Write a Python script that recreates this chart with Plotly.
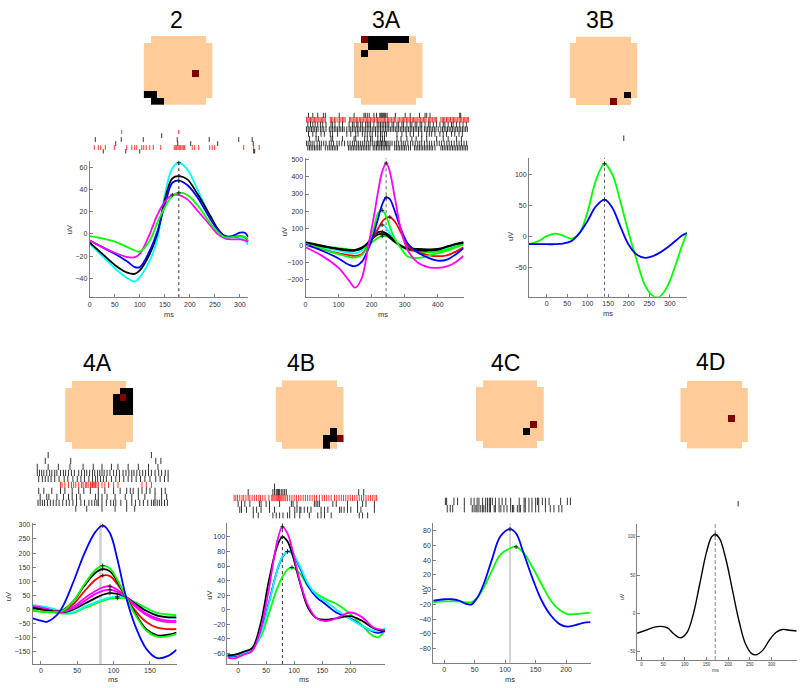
import plotly.graph_objects as go

W, H = 800, 688

# ---------------- colours ----------------
PEACH = "#FFCC99"
DARKRED = "#800000"
COL = dict(b="#0000FF", g="#00FF00", r="#FF0000", c="#00FFFF", m="#FF00FF", k="#000000")

# ---------------- panel titles ----------------
titles = ["2", "3A", "3B", "4A", "4B", "4C", "4D"]

# ---------------- head maps (row, col) on a 10x10 grid ----------------
head_black = {
    "2": [(8, 0), (8, 1), (9, 1), (9, 2)],
    "3A": [(0, 2), (0, 3), (0, 4), (0, 5), (0, 6), (0, 7), (1, 2), (1, 3), (1, 4), (2, 1)],
    "3B": [(8, 8)],
    "4A": [(1, 8), (1, 9), (2, 7), (2, 9), (3, 7), (3, 8), (3, 9), (4, 7), (4, 8), (4, 9)],
    "4B": [(8, 7), (9, 7), (7, 8), (8, 8)],
    "4C": [(7, 7)],
    "4D": [],
}
head_red = {
    "2": [(5, 7)], "3A": [(0, 1)], "3B": [(9, 6)], "4A": [(2, 8)],
    "4B": [(8, 9)], "4C": [(6, 8)], "4D": [(5, 7)],
}

# ---------------- waveforms (ms, uV) ----------------
p2_t = [0, 25, 50, 75, 90, 100, 120, 135, 150, 165, 178, 195, 215, 240, 255, 270, 285, 300, 310, 317]
p2_cyan = [-9, -20, -31, -40, -43, -39, -24, -5, 35, 59, 64, 58, 40, 16, 5, -4, -3, -4, -6, -10]
p2_black = [-8, -18, -28, -35, -36, -33, -18, 0, 31, 50, 52, 49, 36, 17, 5, -2, -3, -2, -3, -7]
p2_blue = [-6, -12, -18, -25, -30, -30, -15, 2, 26, 46, 48, 44, 33, 14, 4, -2, -2, 1, 1, -3]
p2_magenta = [-6, -12, -17, -21, -21, -18, 0, 17, 29, 35, 35, 31, 21, 8, 0, -4, -5, -5, -6, -7]
p2_green = [-2, -4, -7, -12, -15, -16, -6, 10, 24, 34, 37, 35, 26, 10, 2, -3, -3, -2, -3, -6]

p3a_t = [0, 50, 100, 130, 150, 170, 190, 205, 220, 232, 244, 255, 270, 290, 310, 340, 370, 400, 430, 455, 478]
p3a_magenta = [-10, -60, -130, -200, -245, -190, 0, 150, 320, 430, 480, 430, 280, 80, -30, -100, -125, -130, -120, -95, -60]
p3a_blue = [5, -30, -75, -110, -120, -95, -20, 60, 160, 240, 280, 270, 200, 90, 10, -40, -70, -88, -80, -50, -15]
p3a_red = [5, -20, -45, -55, -60, -50, 0, 50, 100, 140, 160, 165, 140, 70, -5, -40, -55, -62, -55, -35, -10]
p3a_green1 = [10, -20, -50, -65, -70, -55, 0, 90, 190, 205, 170, 110, 40, -20, -65, -72, -60, -45, -30, -10, 5]
p3a_green2 = [10, -5, -15, -22, -25, -20, 0, 25, 45, 55, 55, 45, 25, 0, -25, -35, -40, -35, -20, -5, 10]
p3a_cyan = [15, -10, -30, -42, -45, -30, 5, 50, 100, 120, 105, 70, 30, -5, -25, -30, -30, -25, -10, 5, 15]
p3a_black1 = [20, 0, -20, -30, -30, -15, 20, 55, 78, 80, 72, 55, 25, -5, -20, -28, -30, -25, -5, 10, 20]
p3a_black2 = [15, -5, -20, -25, -25, -12, 15, 45, 65, 68, 62, 45, 20, -3, -15, -20, -22, -20, -5, 8, 15]

p3b_t = [-43, -20, 0, 20, 40, 60, 80, 100, 120, 141, 160, 180, 200, 220, 240, 260, 275, 295, 315, 330, 342]
p3b_green = [-13, -8, 0, 4, 1, -4, 5, 40, 90, 117, 100, 55, 5, -40, -80, -97, -98, -80, -45, -15, 6]
p3b_blue = [-13, -13, -13, -13, -12, -8, 5, 25, 48, 59, 46, 15, -14, -30, -35, -32, -27, -18, -7, 1, 5]

p4a_t = [-11.4, 0, 8, 20, 30, 45, 60, 75, 85, 95, 105, 117, 130, 145, 160, 175, 186.6]
p4a_blue = [-32, -40, -44, -25, 10, 100, 200, 275, 297, 270, 180, 45, -60, -140, -173, -165, -143]
p4a_green_a = [-5, -8, -9, -9, -5, 30, 90, 140, 155, 145, 105, 44, -20, -75, -97, -95, -88]
p4a_black_a = [5, 0, -3, -8, -3, 30, 85, 130, 143, 135, 100, 44, -15, -70, -92, -90, -82]
p4a_red = [5, 0, -3, -8, -5, 20, 65, 105, 120, 118, 90, 44, -5, -45, -65, -70, -70]
p4a_magenta_a = [10, 5, 0, -7, -8, 10, 40, 65, 78, 82, 70, 44, 10, -20, -38, -45, -45]
p4a_magenta_b = [12, 7, 2, -6, -9, 5, 30, 55, 66, 70, 62, 44, 15, -15, -32, -40, -40]
p4a_black_b = [8, 3, 0, -6, -10, 0, 20, 40, 52, 58, 55, 44, 20, -5, -22, -28, -28]
p4a_cyan = [15, 12, 8, 0, -8, -10, 10, 25, 35, 43, 45, 42, 20, -5, -20, -28, -30]
p4a_green_b = [-5, -8, -10, -12, -15, -12, 5, 20, 30, 38, 40, 40, 25, 5, -12, -18, -20]

p4b_t = [-19, -5, 10, 25, 40, 55, 70, 79, 88, 96, 110, 125, 140, 155, 175, 200, 220, 240, 250, 262]
p4b_magenta = [-66, -67, -62, -57, -28, 29, 95, 114, 105, 85, 40, 5, -12, -16, -12, -4, -10, -24, -27, -28]
p4b_black = [-63, -62, -58, -53, -20, 40, 88, 100, 94, 78, 38, 2, -12, -14, -12, -9, -15, -25, -28, -30]
p4b_blue = [-64, -64, -60, -55, -33, 10, 55, 72, 80, 78, 58, 32, 17, 8, -4, -12, -22, -30, -32, -29]
p4b_cyan = [-63, -63, -60, -55, -35, 8, 55, 73, 80, 79, 60, 35, 20, 12, 0, -13, -22, -29, -30, -26]
p4b_green = [-63, -62, -58, -54, -38, -5, 30, 45, 55, 58, 50, 32, 22, 15, 8, -6, -21, -36, -38, -28]

p4c_t = [-18, 0, 12, 25, 35, 45, 55, 65, 78, 92, 108, 118, 130, 145, 160, 175, 190, 202, 215, 228, 240]
p4c_blue = [-15, -13, -13, -15, -19, -20, -10, 8, 40, 72, 82, 76, 50, 15, -15, -35, -47, -50, -48, -45, -44]
p4c_green = [-17, -16, -16, -16, -17, -17, -10, 3, 25, 47, 56, 58, 50, 30, 7, -15, -28, -33, -33, -32, -31]

p4d_t = [-10, 10, 30, 45, 60, 75, 90, 105, 120, 135, 150, 162, 170, 180, 195, 210, 225, 240, 255, 265, 280, 295, 310, 325, 340, 358]
p4d_black = [-26, -22, -18, -17, -19, -27, -32, -25, 0, 40, 80, 100, 103, 98, 70, 30, -10, -40, -53, -54, -48, -35, -25, -21, -22, -23]

# time of the marked peak (vertical line) per panel, ms
peak_ms = {"2": 178, "3A": 244, "3B": 141, "4A": 82, "4B": 79, "4C": 108, "4D": 170}

# ---------------- spike rasters (ms), top row first; colour per row ----------------
r2_rows = [
    [64, 178],
    [144],
    [11, 63, 107, 175, 239, 298, 325],
    [52, 176, 202, 256, 327],
    [9, 17, 22, 31, 49, 74, 84, 90, 94, 104, 108, 113, 120, 127, 142, 169, 172, 174, 177, 180,
     182, 185, 188, 190, 205, 210, 218, 240, 245, 250, 308, 328, 339],
    [27, 72, 100, 328, 330],
]
r2_cols = ["r", "k", "k", "k", "r", "k"]

r3a_rows = [
    [9, 22, 37, 54, 60, 102, 147, 177, 181, 187, 193, 207, 215, 225, 228, 231, 234, 237, 240, 243,
     247, 272, 302, 317, 345, 362, 367, 377, 467, 470],
    [3, 7, 11, 15, 19, 23, 27, 31, 35, 40, 44, 48, 52, 56, 60, 75, 79, 83, 88, 92, 98, 103, 107, 112,
     116, 120, 133, 137, 141, 146, 150, 154, 158, 163, 167, 171, 175, 180, 184, 188, 192, 197, 201,
     205, 209, 214, 218, 222, 226, 231, 235, 239, 243, 248, 252, 256, 260, 265, 269, 273, 280, 284,
     289, 293, 297, 301, 306, 310, 314, 318, 323, 327, 331, 335, 340, 344, 348, 353, 357, 361, 365,
     372, 376, 380, 384, 389, 393, 397, 410, 414, 418, 422, 427, 431, 435, 439, 444, 448, 452, 456,
     461, 465, 469, 473, 478, 482, 486, 490, 494],
    [7, 15, 22, 29, 37, 45, 52, 62, 77, 82, 89, 102, 112, 132, 142, 147, 155, 159, 167, 172, 182,
     187, 192, 197, 207, 217, 222, 227, 232, 237, 242, 247, 252, 262, 267, 277, 282, 292, 297, 307,
     317, 322, 332, 337, 347, 352, 362, 372, 377, 387, 397, 407, 417, 422, 432, 442, 447, 457, 467,
     477, 487],
    [3, 8, 13, 18, 23, 28, 33, 38, 45, 50, 55, 62, 72, 77, 82, 87, 92, 97, 102, 107, 112, 117, 125,
     132, 137, 142, 147, 152, 157, 162, 167, 172, 177, 182, 187, 192, 197, 202, 207, 212, 217, 222,
     227, 232, 237, 242, 247, 252, 257, 262, 267, 272, 277, 282, 287, 292, 297, 302, 307, 312, 317,
     322, 327, 332, 337, 342, 347, 352, 360, 365, 370, 375, 380, 385, 390, 395, 402, 410, 415, 420,
     425, 430, 435, 440, 445, 450, 455, 460, 465, 470, 475, 480, 485, 490],
    [9, 22, 32, 47, 57, 75, 82, 97, 125, 137, 152, 159, 172, 180, 187, 195, 202, 212, 219, 227, 232,
     239, 245, 277, 292, 305, 317, 327, 342, 352, 367, 375, 382, 392, 407, 417, 427, 442, 452, 465, 475],
    [12, 32, 39, 77, 82, 112, 147, 152, 179, 187, 197, 202, 219, 227, 233, 239, 277, 289, 307, 322,
     335, 352, 367, 397, 417, 432, 457, 472],
    [3, 8, 14, 20, 26, 35, 42, 48, 55, 62, 72, 78, 85, 95, 102, 110, 118, 128, 135, 142, 148, 155,
     160, 166, 172, 178, 184, 190, 196, 202, 208, 214, 218, 222, 226, 230, 234, 238, 242, 246, 250,
     256, 262, 270, 276, 282, 290, 296, 302, 310, 318, 325, 332, 340, 346, 352, 360, 368, 375, 382,
     390, 398, 405, 412, 420, 428, 435, 442, 450, 458, 465, 472, 480, 488],
    [7, 12, 17, 22, 27, 32, 37, 42, 47, 60, 67, 72, 77, 82, 87, 92, 97, 130, 135, 140, 145, 150, 155,
     160, 165, 170, 175, 180, 185, 190, 195, 205, 210, 215, 220, 225, 230, 235, 240, 245, 250, 255,
     270, 275, 280, 285, 290, 295, 300, 305, 312, 318, 330, 335, 340, 345, 350, 355, 360, 365, 370,
     375, 380, 385, 392, 410, 415, 420, 425, 430, 435, 440, 445, 450, 455, 460, 465, 470, 475, 480,
     485, 490],
]
r3a_cols = ["k", "r", "k", "k", "k", "k", "k", "k"]

r3b_rows = [[188]]
r3b_cols = ["k"]

r4a_rows = [
    [10, 152],
    [6, 41, 158, 165],
    [-5, 10, 24, 40, 58, 72, 84, 97, 106, 120, 134, 148, 161],
    [-5, -2, 1, 4, 8, 12, 15, 19, 22, 27, 31, 34, 38, 42, 46, 52, 56, 60, 63, 67, 71, 74, 78, 81, 84,
     87, 91, 95, 100, 104, 108, 113, 117, 121, 125, 128, 132, 136, 140, 144, 148, 152, 157, 162, 166,
     171, 175],
    [-3, 2, 6, 10, 14, 19, 25, 32, 37, 44, 50, 55, 60, 66, 71, 75, 78, 82, 86, 90, 97, 103, 108, 114,
     120, 125, 131, 137, 143, 150, 158, 164, 170, 175],
    [27, 29, 33, 38, 42, 45, 48, 52, 56, 58, 61, 63, 65, 68, 69, 71, 72, 74, 75, 77, 79, 84, 88, 93,
     100, 106, 139, 145, 152],
    [-3, 4, 15, 27, 33, 43, 52, 59, 68, 79, 88, 100, 109, 118, 123, 127, 134, 139, 145, 150, 157, 166, 171],
    [-1, 8, 11, 22, 31, 38, 43, 49, 54, 75, 79, 84, 91, 102, 116, 125, 134, 143, 157, 166, 173],
    [-4, -1, 2, 5, 9, 13, 17, 21, 25, 30, 35, 39, 44, 49, 55, 60, 66, 70, 74, 77, 79, 84, 90, 96, 100,
     103, 110, 118, 125, 130, 136, 141, 147, 152, 155, 157, 160, 163, 166, 170, 174],
    [48, 63, 84, 102, 118, 129],
]
r4a_cols = ["k", "k", "k", "k", "k", "r", "k", "k", "k", "k"]

r4b_rows = [
    [65],
    [18, 62, 65, 68, 70, 72, 74, 77, 80, 83, 86, 215, 224],
    [-7, -4, -1, 3, 7, 10, 14, 18, 21, 25, 29, 33, 37, 40, 44, 48, 55, 60, 62, 64, 66, 68, 70, 72, 74,
     76, 78, 80, 82, 85, 88, 92, 96, 100, 104, 108, 112, 116, 120, 124, 128, 132, 136, 140, 145, 150,
     154, 158, 162, 166, 172, 176, 180, 184, 188, 192, 196, 200, 204, 208, 212, 216, 220, 224, 228,
     232, 236, 240, 244, 247],
    [0, 6, 12, 21, 38, 41, 50, 56, 74, 95, 98, 105, 136, 139, 142, 145, 169, 175, 195, 213, 222, 228, 243],
    [3, 6, 15, 27, 33, 41, 56, 65, 92, 101, 105, 110, 112, 118, 124, 130, 148, 154, 160, 181, 184,
     189, 195, 201, 213, 219, 243],
    [27, 36, 62, 68, 74, 80, 88, 92, 101, 110, 127, 142, 148, 154, 166, 216, 222, 231],
]
r4b_cols = ["k", "k", "r", "k", "k", "k"]

r4c_rows = [
    [2, 4, 16, 22, 33, 44, 49, 54, 57, 63, 68, 71, 74, 76, 79, 84, 90, 95, 101, 109, 123, 131, 133,
     139, 144, 150, 153, 155, 161, 166, 172, 191, 202, 207],
    [5, 10, 14, 33, 46, 49, 52, 54, 57, 60, 63, 65, 68, 71, 74, 76, 82, 84, 90, 93, 98, 103, 109,
     112, 114, 120, 123, 125, 131, 133, 139, 144, 150, 155, 166, 174, 180, 188, 193],
]
r4c_cols = ["k", "k"]

r4d_rows = [[223]]
r4d_cols = ["k"]

# ---------------- tick values ----------------
ticks = {
    "2": ([0, 50, 100, 150, 200, 250, 300], [-40, -20, 0, 20, 40, 60]),
    "3A": ([0, 100, 200, 300, 400], [-200, -100, 0, 100, 200, 300, 400, 500]),
    "3B": ([0, 50, 100, 150, 200, 250, 300], [-50, 0, 50, 100]),
    "4A": ([0, 50, 100, 150], [-150, -100, -50, 0, 50, 100, 150, 200, 250, 300]),
    "4B": ([0, 50, 100, 150, 200], [-60, -40, -20, 0, 20, 40, 60, 80, 100]),
    "4C": ([0, 50, 100, 150, 200], [-80, -60, -40, -20, 0, 20, 40, 60, 80]),
    "4D": ([0, 50, 100, 150, 200, 250, 300], [-50, 0, 50, 100]),
}

series = {
    "2": (p2_t, [("c", p2_cyan), ("k", p2_black), ("b", p2_blue), ("m", p2_magenta), ("g", p2_green)]),
    "3A": (p3a_t, [("c", p3a_cyan), ("g", p3a_green2), ("k", p3a_black2), ("k", p3a_black1),
                   ("r", p3a_red), ("g", p3a_green1), ("b", p3a_blue), ("m", p3a_magenta)]),
    "3B": (p3b_t, [("g", p3b_green), ("b", p3b_blue)]),
    "4A": (p4a_t, [("g", p4a_green_b), ("c", p4a_cyan), ("k", p4a_black_b), ("m", p4a_magenta_b),
                   ("m", p4a_magenta_a), ("r", p4a_red), ("k", p4a_black_a), ("g", p4a_green_a),
                   ("b", p4a_blue)]),
    "4B": (p4b_t, [("g", p4b_green), ("b", p4b_blue), ("c", p4b_cyan), ("k", p4b_black), ("m", p4b_magenta)]),
    "4C": (p4c_t, [("g", p4c_green), ("b", p4c_blue)]),
    "4D": (p4d_t, [("k", p4d_black)]),
}
rasters = {"2": (r2_rows, r2_cols), "3A": (r3a_rows, r3a_cols), "3B": (r3b_rows, r3b_cols),
           "4A": (r4a_rows, r4a_cols), "4B": (r4b_rows, r4b_cols), "4C": (r4c_rows, r4c_cols),
           "4D": (r4d_rows, r4d_cols)}

# ---------------- layout geometry (pixels) ----------------
geom = {
    "2": dict(plot=(88, 159, 247, 296), xr=[0, 317], yr=[-57, 66],
              rast=(88, 128, 262, 152), rxr=[0, 347.3], rsz=3.5,
              head=(142, 34, 211, 103), title=(175, 18), uv=(68, 228), ms=(167, 313),
              vl=dict(color="#333", width=1, dash="dot"), fs=7),
    "3A": dict(plot=(304.3, 156.7, 462.7, 296), xr=[0, 478], yr=[-300, 508],
               rast=(304.3, 111, 470, 149), rxr=[0, 500.6], rsz=4,
               head=(352.7, 34, 421.7, 103), title=(385, 18), uv=(282.7, 230), ms=(381.7, 313),
               vl=dict(color="#999", width=1.5, dash="dot"), fs=7),
    "3B": dict(plot=(528.3, 156, 686.7, 295.7), xr=[-43, 342], yr=[-98, 127],
               rast=(528.3, 134, 686.7, 139.5), rxr=[-43, 342], rsz=5,
               head=(569, 34.5, 637, 103.3), title=(599, 18), uv=(510, 235), ms=(607.7, 312),
               vl=dict(color="#666", width=1, dash="dot"), fs=7),
    "4A": dict(plot=(30.7, 522.7, 175, 664), xr=[-11.4, 186.6], yr=[-194, 306],
               rast=(30.7, 451.3, 175, 511.3), rxr=[-11.4, 186.6], rsz=4.5,
               head=(63.3, 380, 131.7, 448.3), title=(96, 362), uv=(7.3, 596.7), ms=(111, 679),
               vl=dict(color="#D0D0D0", width=2.5, dash="solid"), fs=7),
    "4B": dict(plot=(226, 522.7, 384, 664), xr=[-19, 262], yr=[-75, 119],
               rast=(226, 482.8, 384, 518), rxr=[-19, 262], rsz=4.5,
               head=(274.3, 379.3, 342.7, 448), title=(300, 362), uv=(208, 595), ms=(303, 679),
               vl=dict(color="#333", width=1, dash="dot"), fs=7),
    "4C": dict(plot=(432.3, 522.7, 590, 662.7), xr=[-18, 240], yr=[-99, 90],
               rast=(432.3, 496.9, 590, 512.1), rxr=[-18, 240], rsz=5.5,
               head=(475, 379.3, 543.3, 447.7), title=(505, 362), uv=(423.3, 590), ms=(509.3, 679),
               vl=dict(color="#AAAAAA", width=1, dash="solid"), fs=7),
    "4D": dict(plot=(636.7, 523.3, 796.7, 660), xr=[-10, 358], yr=[-61, 117],
               rast=(636.7, 500.5, 796.7, 506), rxr=[-10, 358], rsz=5,
               head=(680, 380, 747.7, 447.7), title=(710, 361), uv=(621.7, 596.7), ms=(715, 670),
               vl=dict(color="#555", width=0.7, dash="4px,2px"), fs=4.5),
}

FONT = "Liberation Sans, Arial, Helvetica, sans-serif"

fig = go.Figure()
layout = dict(width=W, height=H, margin=dict(l=0, r=0, t=0, b=0), autosize=False,
              paper_bgcolor="white", plot_bgcolor="rgba(0,0,0,0)", showlegend=False,
              font=dict(family=FONT, color="#222"))
annotations = []
n_ax = [0]


def add_axes(box, xr, yr, visible=False, xt=None, yt=None, fs=7):
    n_ax[0] += 1
    n = n_ax[0]
    l, t, r, b = box
    xa = dict(domain=[l / W, r / W], range=xr, anchor=f"y{n}", fixedrange=True,
              showgrid=False, zeroline=False)
    ya = dict(domain=[1 - b / H, 1 - t / H], range=yr, anchor=f"x{n}", fixedrange=True,
              showgrid=False, zeroline=False)
    if visible:
        for a, tv in ((xa, xt), (ya, yt)):
            a.update(showline=True, linecolor="#808080", linewidth=1, ticks="inside", ticklen=3,
                     tickcolor="#808080", tickvals=tv, tickfont=dict(size=fs, color="#333"),
                     mirror=False)
    else:
        for a in (xa, ya):
            a.update(visible=False)
    key = "" if n == 1 else str(n)
    layout["xaxis" + key] = xa
    layout["yaxis" + key] = ya
    return f"x{n}", f"y{n}"


for name in titles:
    g = geom[name]

    # head map
    xref, yref = add_axes(g["head"], [-0.5, 9.5], [9.5, -0.5])
    z = []
    for row in range(10):
        zr = []
        for col in range(10):
            corner = row in (0, 9) and col in (0, 9)
            zr.append(None if corner else 0)
        z.append(zr)
    for (row, col) in head_black[name]:
        z[row][col] = 1
    for (row, col) in head_red[name]:
        z[row][col] = 2
    fig.add_trace(go.Heatmap(z=z, x=list(range(10)), y=list(range(10)), zmin=0, zmax=2,
                             colorscale=[[0, PEACH], [0.33, PEACH], [0.34, "#000000"], [0.66, "#000000"],
                                         [0.67, DARKRED], [1, DARKRED]],
                             showscale=False, hoverinfo="skip", xaxis=xref, yaxis=yref))

    # raster
    rows, cols = rasters[name]
    nrows = len(rows)
    xref, yref = add_axes(g["rast"], g["rxr"], [nrows + 0.5, 0.5])
    for i, (times, c) in enumerate(zip(rows, cols)):
        fig.add_trace(go.Scatter(x=times, y=[i + 1] * len(times), mode="markers",
                                 marker=dict(symbol="line-ns", size=g["rsz"],
                                             line=dict(width=0.8, color=COL[c])),
                                 hoverinfo="skip", xaxis=xref, yaxis=yref))

    # waveforms
    xt, yt = ticks[name]
    xref, yref = add_axes(g["plot"], g["xr"], g["yr"], visible=True, xt=xt, yt=yt, fs=g["fs"])
    pk = peak_ms[name]
    fig.add_trace(go.Scatter(x=[pk, pk], y=g["yr"], mode="lines", line=g["vl"],
                             hoverinfo="skip", xaxis=xref, yaxis=yref))
    t, curves = series[name]
    lw = 1.4 if name == "4D" else 1.8
    for c, v in curves:
        fig.add_trace(go.Scatter(x=t, y=v, mode="lines", line=dict(color=COL[c], width=lw, shape="spline",
                                                                   smoothing=1.0),
                                 hoverinfo="skip", xaxis=xref, yaxis=yref))
    px, py = [], []
    for c, v in curves:
        i = max(range(len(v)), key=lambda k: v[k])
        px.append(t[i])
        py.append(v[i])
    fig.add_trace(go.Scatter(x=px, y=py, mode="markers",
                             marker=dict(symbol="cross-thin", size=3, line=dict(width=1, color="#222")),
                             hoverinfo="skip", xaxis=xref, yaxis=yref))

    # texts
    tx, ty = g["title"]
    annotations.append(dict(text=name, x=tx / W, y=1 - ty / H, xref="paper", yref="paper",
                            showarrow=False, xanchor="center", yanchor="middle",
                            font=dict(size=23, color="#000", family=FONT)))
    ux, uy = g["uv"]
    annotations.append(dict(text="uV", x=ux / W, y=1 - uy / H, xref="paper", yref="paper",
                            showarrow=False, textangle=-90, xanchor="center", yanchor="middle",
                            borderpad=0, font=dict(size=g["fs"] + 0.5, color="#333", family=FONT)))
    mx, my = g["ms"]
    annotations.append(dict(text="ms", x=mx / W, y=1 - my / H, xref="paper", yref="paper",
                            showarrow=False, xanchor="center", yanchor="middle",
                            borderpad=0, font=dict(size=g["fs"] + 0.5, color="#333", family=FONT)))

layout["annotations"] = annotations
fig.update_layout(**layout)
fig.write_html("out.html", include_plotlyjs=True, config=dict(displayModeBar=False, staticPlot=True),
               post_script="document.body.style.margin='0px';document.body.style.padding='0px';"
                           "document.body.style.overflow='hidden';")
